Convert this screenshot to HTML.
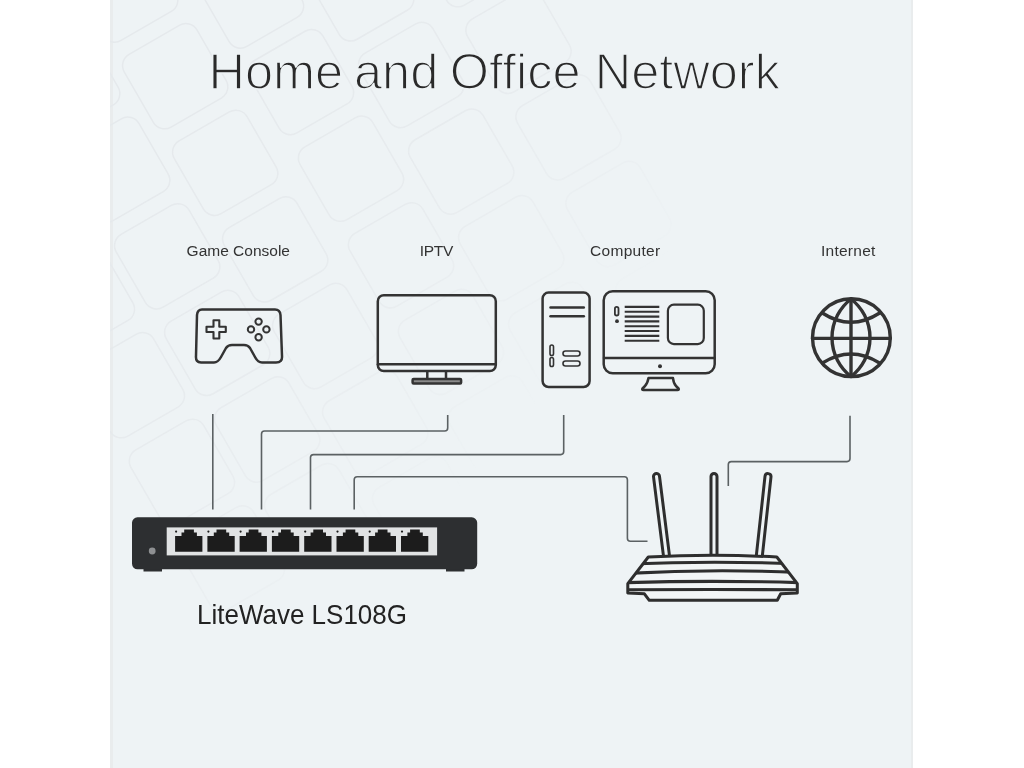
<!DOCTYPE html>
<html><head><meta charset="utf-8">
<style>
html,body{margin:0;padding:0;width:1024px;height:768px;overflow:hidden;background:#fff;}
#panel{position:absolute;left:110px;top:0;width:803px;height:768px;background:#eef3f5;overflow:hidden;}
.t{position:absolute;font-family:"Liberation Sans",sans-serif;white-space:nowrap;line-height:1;transform-origin:0 0;}
#title,#title2,#title3,#title4{font-size:50.5px;color:#2a2a2a;-webkit-text-stroke:1.5px #eef3f5;}
.lab{font-size:15.5px;color:#333;}
#model{font-size:27.2px;color:#222;transform:scaleX(0.956);}
svg{position:absolute;left:0;top:0;}
</style></head>
<body>
<div id="panel"></div><div style="position:absolute;left:110px;top:0;width:2.5px;height:768px;background:#e9eced"></div><div style="position:absolute;left:910.5px;top:0;width:2.5px;height:768px;background:#e9eced"></div>
<!--PATTERN--><svg width="1024" height="768" viewBox="0 0 1024 768" style="position:absolute;left:0;top:0">
<defs>
<linearGradient id="fade" gradientUnits="userSpaceOnUse" x1="200" y1="100" x2="540" y2="400">
<stop offset="0" stop-color="#fff" stop-opacity="1"/><stop offset="0.5" stop-color="#fff" stop-opacity="0.75"/><stop offset="1" stop-color="#fff" stop-opacity="0"/>
</linearGradient>
<mask id="pm"><rect x="110" y="0" width="803" height="768" fill="url(#fade)"/></mask>
</defs>
<g mask="url(#pm)" fill="none" stroke="#e5e9ec" stroke-width="1.5">
<rect x="39.9" y="256.6" width="84" height="84" rx="13" transform="rotate(-30 81.9 298.6)"/>
<rect x="89.9" y="343.2" width="84" height="84" rx="13" transform="rotate(-30 131.9 385.2)"/>
<rect x="139.9" y="429.8" width="84" height="84" rx="13" transform="rotate(-30 181.9 471.8)"/>
<rect x="189.9" y="516.4" width="84" height="84" rx="13" transform="rotate(-30 231.9 558.4)"/>
<rect x="25.2" y="41.1" width="84" height="84" rx="13" transform="rotate(-30 67.2 83.1)"/>
<rect x="75.2" y="127.7" width="84" height="84" rx="13" transform="rotate(-30 117.2 169.7)"/>
<rect x="125.2" y="214.3" width="84" height="84" rx="13" transform="rotate(-30 167.2 256.3)"/>
<rect x="175.2" y="300.9" width="84" height="84" rx="13" transform="rotate(-30 217.2 342.9)"/>
<rect x="225.2" y="387.5" width="84" height="84" rx="13" transform="rotate(-30 267.2 429.5)"/>
<rect x="275.2" y="474.1" width="84" height="84" rx="13" transform="rotate(-30 317.2 516.1)"/>
<rect x="83.2" y="-52.4" width="84" height="84" rx="13" transform="rotate(-30 125.2 -10.4)"/>
<rect x="133.2" y="34.2" width="84" height="84" rx="13" transform="rotate(-30 175.2 76.2)"/>
<rect x="183.2" y="120.8" width="84" height="84" rx="13" transform="rotate(-30 225.2 162.8)"/>
<rect x="233.2" y="207.4" width="84" height="84" rx="13" transform="rotate(-30 275.2 249.4)"/>
<rect x="283.2" y="294.0" width="84" height="84" rx="13" transform="rotate(-30 325.2 336.0)"/>
<rect x="333.2" y="380.6" width="84" height="84" rx="13" transform="rotate(-30 375.2 422.6)"/>
<rect x="383.2" y="467.2" width="84" height="84" rx="13" transform="rotate(-30 425.2 509.2)"/>
<rect x="209.0" y="-46.5" width="84" height="84" rx="13" transform="rotate(-30 251.0 -4.5)"/>
<rect x="259.0" y="40.1" width="84" height="84" rx="13" transform="rotate(-30 301.0 82.1)"/>
<rect x="309.0" y="126.7" width="84" height="84" rx="13" transform="rotate(-30 351.0 168.7)"/>
<rect x="359.0" y="213.3" width="84" height="84" rx="13" transform="rotate(-30 401.0 255.3)"/>
<rect x="409.0" y="299.9" width="84" height="84" rx="13" transform="rotate(-30 451.0 341.9)"/>
<rect x="459.0" y="386.5" width="84" height="84" rx="13" transform="rotate(-30 501.0 428.5)"/>
<rect x="509.0" y="473.1" width="84" height="84" rx="13" transform="rotate(-30 551.0 515.1)"/>
<rect x="319.2" y="-53.6" width="84" height="84" rx="13" transform="rotate(-30 361.2 -11.6)"/>
<rect x="369.2" y="33.0" width="84" height="84" rx="13" transform="rotate(-30 411.2 75.0)"/>
<rect x="419.2" y="119.6" width="84" height="84" rx="13" transform="rotate(-30 461.2 161.6)"/>
<rect x="469.2" y="206.2" width="84" height="84" rx="13" transform="rotate(-30 511.2 248.2)"/>
<rect x="519.2" y="292.8" width="84" height="84" rx="13" transform="rotate(-30 561.2 334.8)"/>
<rect x="569.2" y="379.4" width="84" height="84" rx="13" transform="rotate(-30 611.2 421.4)"/>
<rect x="426.5" y="-87.8" width="84" height="84" rx="13" transform="rotate(-30 468.5 -45.8)"/>
<rect x="476.5" y="-1.2" width="84" height="84" rx="13" transform="rotate(-30 518.5 40.8)"/>
<rect x="526.5" y="85.4" width="84" height="84" rx="13" transform="rotate(-30 568.5 127.4)"/>
<rect x="576.5" y="172.0" width="84" height="84" rx="13" transform="rotate(-30 618.5 214.0)"/>
<rect x="626.5" y="258.6" width="84" height="84" rx="13" transform="rotate(-30 668.5 300.6)"/>
<rect x="676.5" y="345.2" width="84" height="84" rx="13" transform="rotate(-30 718.5 387.2)"/>
</g></svg>
<!--/PATTERN-->
<svg width="1024" height="768" viewBox="0 0 1024 768">
  <g fill="none" stroke="#333" stroke-width="2.5" stroke-linejoin="round" stroke-linecap="round">
    <!-- game controller -->
    <path d="M202 309.5 H275 Q280 309.5 280.5 315 L282 356 Q282.5 362.5 276 362.5 H262 Q258 362.5 255 357 L250 348 Q248 345 244 345 H232 Q228 345 226 348 L221 357 Q218 362.5 214 362.5 H201 Q195.5 362.5 196 356 L197 315 Q197.5 309.5 202 309.5 Z"/>
    <path d="M213.5 320.3 H219.3 V326.7 H225.8 V332 H219.3 V338.5 H213.5 V332 H206.5 V326.7 H213.5 Z" stroke-width="2.1"/>
    <circle cx="258.6" cy="321.6" r="3.2" stroke-width="2"/>
    <circle cx="258.6" cy="337.3" r="3.2" stroke-width="2"/>
    <circle cx="251" cy="329.4" r="3.2" stroke-width="2"/>
    <circle cx="266.4" cy="329.4" r="3.2" stroke-width="2"/>
    <!-- TV -->
    <rect x="377.8" y="295.2" width="118" height="75.9" rx="6"/>
    <line x1="378" y1="364.3" x2="495.6" y2="364.3"/>
    <line x1="427.3" y1="371.5" x2="427.3" y2="378.5"/>
    <line x1="446" y1="371.5" x2="446" y2="378.5"/>
    <rect x="412.6" y="379" width="48.5" height="4.4" rx="1" fill="#8a8a8a"/>
    <!-- tower -->
    <rect x="542.6" y="292.6" width="47" height="94.4" rx="6"/>
    <line x1="550.5" y1="307.6" x2="583.8" y2="307.6"/>
    <line x1="550.5" y1="316.2" x2="583.8" y2="316.2"/>
    <rect x="550" y="345" width="3.5" height="10.5" rx="1.75" stroke-width="1.6"/>
    <rect x="550" y="357.5" width="3.5" height="9" rx="1.75" stroke-width="1.6"/>
    <rect x="563" y="351" width="17" height="5" rx="2.5" stroke-width="1.6"/>
    <rect x="563" y="361" width="17" height="5" rx="2.5" stroke-width="1.6"/>
    <!-- monitor -->
    <rect x="603.7" y="291.3" width="111" height="81.9" rx="9"/>
    <line x1="604" y1="358.1" x2="714.5" y2="358.1"/>
    <rect x="667.9" y="304.7" width="35.9" height="39.4" rx="6" stroke-width="2.2"/>
    <rect x="614.9" y="306.9" width="3.6" height="8.6" rx="1.8" stroke-width="1.8"/>
    <circle cx="617" cy="321.2" r="1.9" fill="#333" stroke="none"/>
    <circle cx="660" cy="366.3" r="2" fill="#333" stroke="none"/>
    <g stroke-width="2.1" stroke-linecap="butt">
      <line x1="624.7" y1="306.9" x2="659.3" y2="306.9"/>
      <line x1="624.7" y1="311.7" x2="659.3" y2="311.7"/>
      <line x1="624.7" y1="316.6" x2="659.3" y2="316.6"/>
      <line x1="624.7" y1="321.4" x2="659.3" y2="321.4"/>
      <line x1="624.7" y1="326.2" x2="659.3" y2="326.2"/>
      <line x1="624.7" y1="331.0" x2="659.3" y2="331.0"/>
      <line x1="624.7" y1="335.9" x2="659.3" y2="335.9"/>
      <line x1="624.7" y1="340.7" x2="659.3" y2="340.7"/>
    </g>
    <path d="M648.5 378 H673 Q673.5 383.5 676 386 L678.5 388.5 Q679.5 390 677.5 390 H643.5 Q641.5 390 642.5 388.5 L645 386 Q647.5 383.5 648.5 378 Z"/>
    <!-- globe -->
    <g stroke-width="3.4">
      <circle cx="851.4" cy="337.7" r="38.9"/>
      <line x1="851" y1="299" x2="851" y2="376.5"/>
      <line x1="812.6" y1="338.4" x2="890.2" y2="338.4"/>
      <path d="M851 299 A49 49 0 0 0 851 376.5 A49 49 0 0 0 851 299 Z"/>
      <path d="M822.3 313 Q851 331.5 879.7 313"/>
      <path d="M822.5 363 Q851 345 879.5 363"/>
    </g>
  </g>
  <!-- cables -->
  <g fill="none" stroke="#5b6163" stroke-width="1.6">
    <path d="M212.8 414 V509.5"/>
    <path d="M261.5 509.5 V434 Q261.5 431 264.5 431 H444.7 Q447.7 431 447.7 428 V415"/>
    <path d="M310.5 509.5 V457.6 Q310.5 454.6 313.5 454.6 H560.7 Q563.7 454.6 563.7 451.6 V415"/>
    <path d="M354.2 509.5 V479.7 Q354.2 476.7 357.2 476.7 H624.4 Q627.4 476.7 627.4 479.7 V538.2 Q627.4 541.2 630.4 541.2 H647.5"/>
    <path d="M850 415.7 V458.6 Q850 461.6 847 461.6 H731.3 Q728.3 461.6 728.3 464.6 V486"/>
  </g>
  <!-- switch -->
  <rect x="143.5" y="566" width="18.5" height="5.5" fill="#2d2f31"/>
  <rect x="446" y="566" width="18.5" height="5.5" fill="#2d2f31"/>
  <rect x="132" y="517.3" width="345.2" height="52" rx="5.5" fill="#2d2f31"/>
  <circle cx="152.2" cy="551" r="3.4" fill="#8e9092"/>
  <rect x="166.7" y="527.4" width="270.4" height="28" fill="#e1e3e4"/>
  <g id="ports" fill="#1c1c1c"><path d="M175.1 551.7 V536.1 H181.5 V532.4 H184.2 V529.4 H193.9 V532.4 H196.9 V536.1 H202.4 V551.7 Z"/><circle cx="176.1" cy="531.6" r="1.1"/><path d="M207.4 551.7 V536.1 H213.8 V532.4 H216.5 V529.4 H226.2 V532.4 H229.2 V536.1 H234.7 V551.7 Z"/><circle cx="208.4" cy="531.6" r="1.1"/><path d="M239.6 551.7 V536.1 H246.0 V532.4 H248.7 V529.4 H258.4 V532.4 H261.4 V536.1 H266.9 V551.7 Z"/><circle cx="240.6" cy="531.6" r="1.1"/><path d="M271.9 551.7 V536.1 H278.3 V532.4 H281.0 V529.4 H290.7 V532.4 H293.7 V536.1 H299.2 V551.7 Z"/><circle cx="272.9" cy="531.6" r="1.1"/><path d="M304.2 551.7 V536.1 H310.6 V532.4 H313.3 V529.4 H323.0 V532.4 H326.0 V536.1 H331.5 V551.7 Z"/><circle cx="305.2" cy="531.6" r="1.1"/><path d="M336.5 551.7 V536.1 H342.9 V532.4 H345.6 V529.4 H355.3 V532.4 H358.3 V536.1 H363.8 V551.7 Z"/><circle cx="337.5" cy="531.6" r="1.1"/><path d="M368.7 551.7 V536.1 H375.1 V532.4 H377.8 V529.4 H387.5 V532.4 H390.5 V536.1 H396.0 V551.7 Z"/><circle cx="369.7" cy="531.6" r="1.1"/><path d="M401.0 551.7 V536.1 H407.4 V532.4 H410.1 V529.4 H419.8 V532.4 H422.8 V536.1 H428.3 V551.7 Z"/><circle cx="402.0" cy="531.6" r="1.1"/></g>
  <!-- router -->
  <g fill="none" stroke="#2e2e2e" stroke-width="3" stroke-linejoin="round" stroke-linecap="round">
    <path d="M663.52 556.37 L653.52 476.87 M669.48 555.63 L659.48 476.13 A3 3 0 0 0 653.52 476.87"/>
    <path d="M711 556 V476.5 M717 556 V476.5 A3 3 0 0 0 711 476.5"/>
    <path d="M756.32 555.67 L765.02 476.17 M762.28 556.33 L770.98 476.83 A3 3 0 0 0 765.02 476.17"/>
  </g>
  <g fill="#f2f5f6" stroke="#2e2e2e" stroke-width="3" stroke-linejoin="round" stroke-linecap="round">
    <path d="M648.3 557 Q712.5 553.6 776.8 557 L797.3 583.6 V593 L780.7 593.8 L777.3 600.3 H649.3 L644.4 593.8 L627.8 593 V583.6 Z"/>
  </g>
  <defs><clipPath id="rb"><path d="M648.3 557 Q712.5 553.6 776.8 557 L797.3 583.6 V593 L780.7 593.8 L777.3 600.3 H649.3 L644.4 593.8 L627.8 593 V583.6 Z"/></clipPath></defs>
  <g fill="none" stroke="#2e2e2e" stroke-width="3.1" clip-path="url(#rb)">
    <path d="M630 564 Q712 560.5 795 563.8"/>
    <path d="M625 573.5 Q712 568.7 800 572.5"/>
    <path d="M620 582.8 Q712 579.9 805 582.8"/>
    <path d="M620 589.8 Q712 589.2 805 589.8"/>
  </g>
</svg>
<div class="t" id="title" style="left:208.5px;top:47px">Home</div>
<div class="t" id="title2" style="left:354px;top:47px">and</div>
<div class="t" id="title3" style="left:449.7px;top:47px">Office</div>
<div class="t" id="title4" style="left:594.7px;top:47px">Network</div>
<div class="t lab" id="l1" style="left:186.6px;top:242.5px">Game Console</div>
<div class="t lab" id="l2" style="left:419.8px;top:242.5px;letter-spacing:-0.3px">IPTV</div>
<div class="t lab" id="l3" style="left:590px;top:242.5px;letter-spacing:0.3px">Computer</div>
<div class="t lab" id="l4" style="left:821px;top:242.5px;letter-spacing:0.25px">Internet</div>
<div class="t" id="model" style="left:196.9px;top:601.4px">LiteWave LS108G</div>
</body></html>
